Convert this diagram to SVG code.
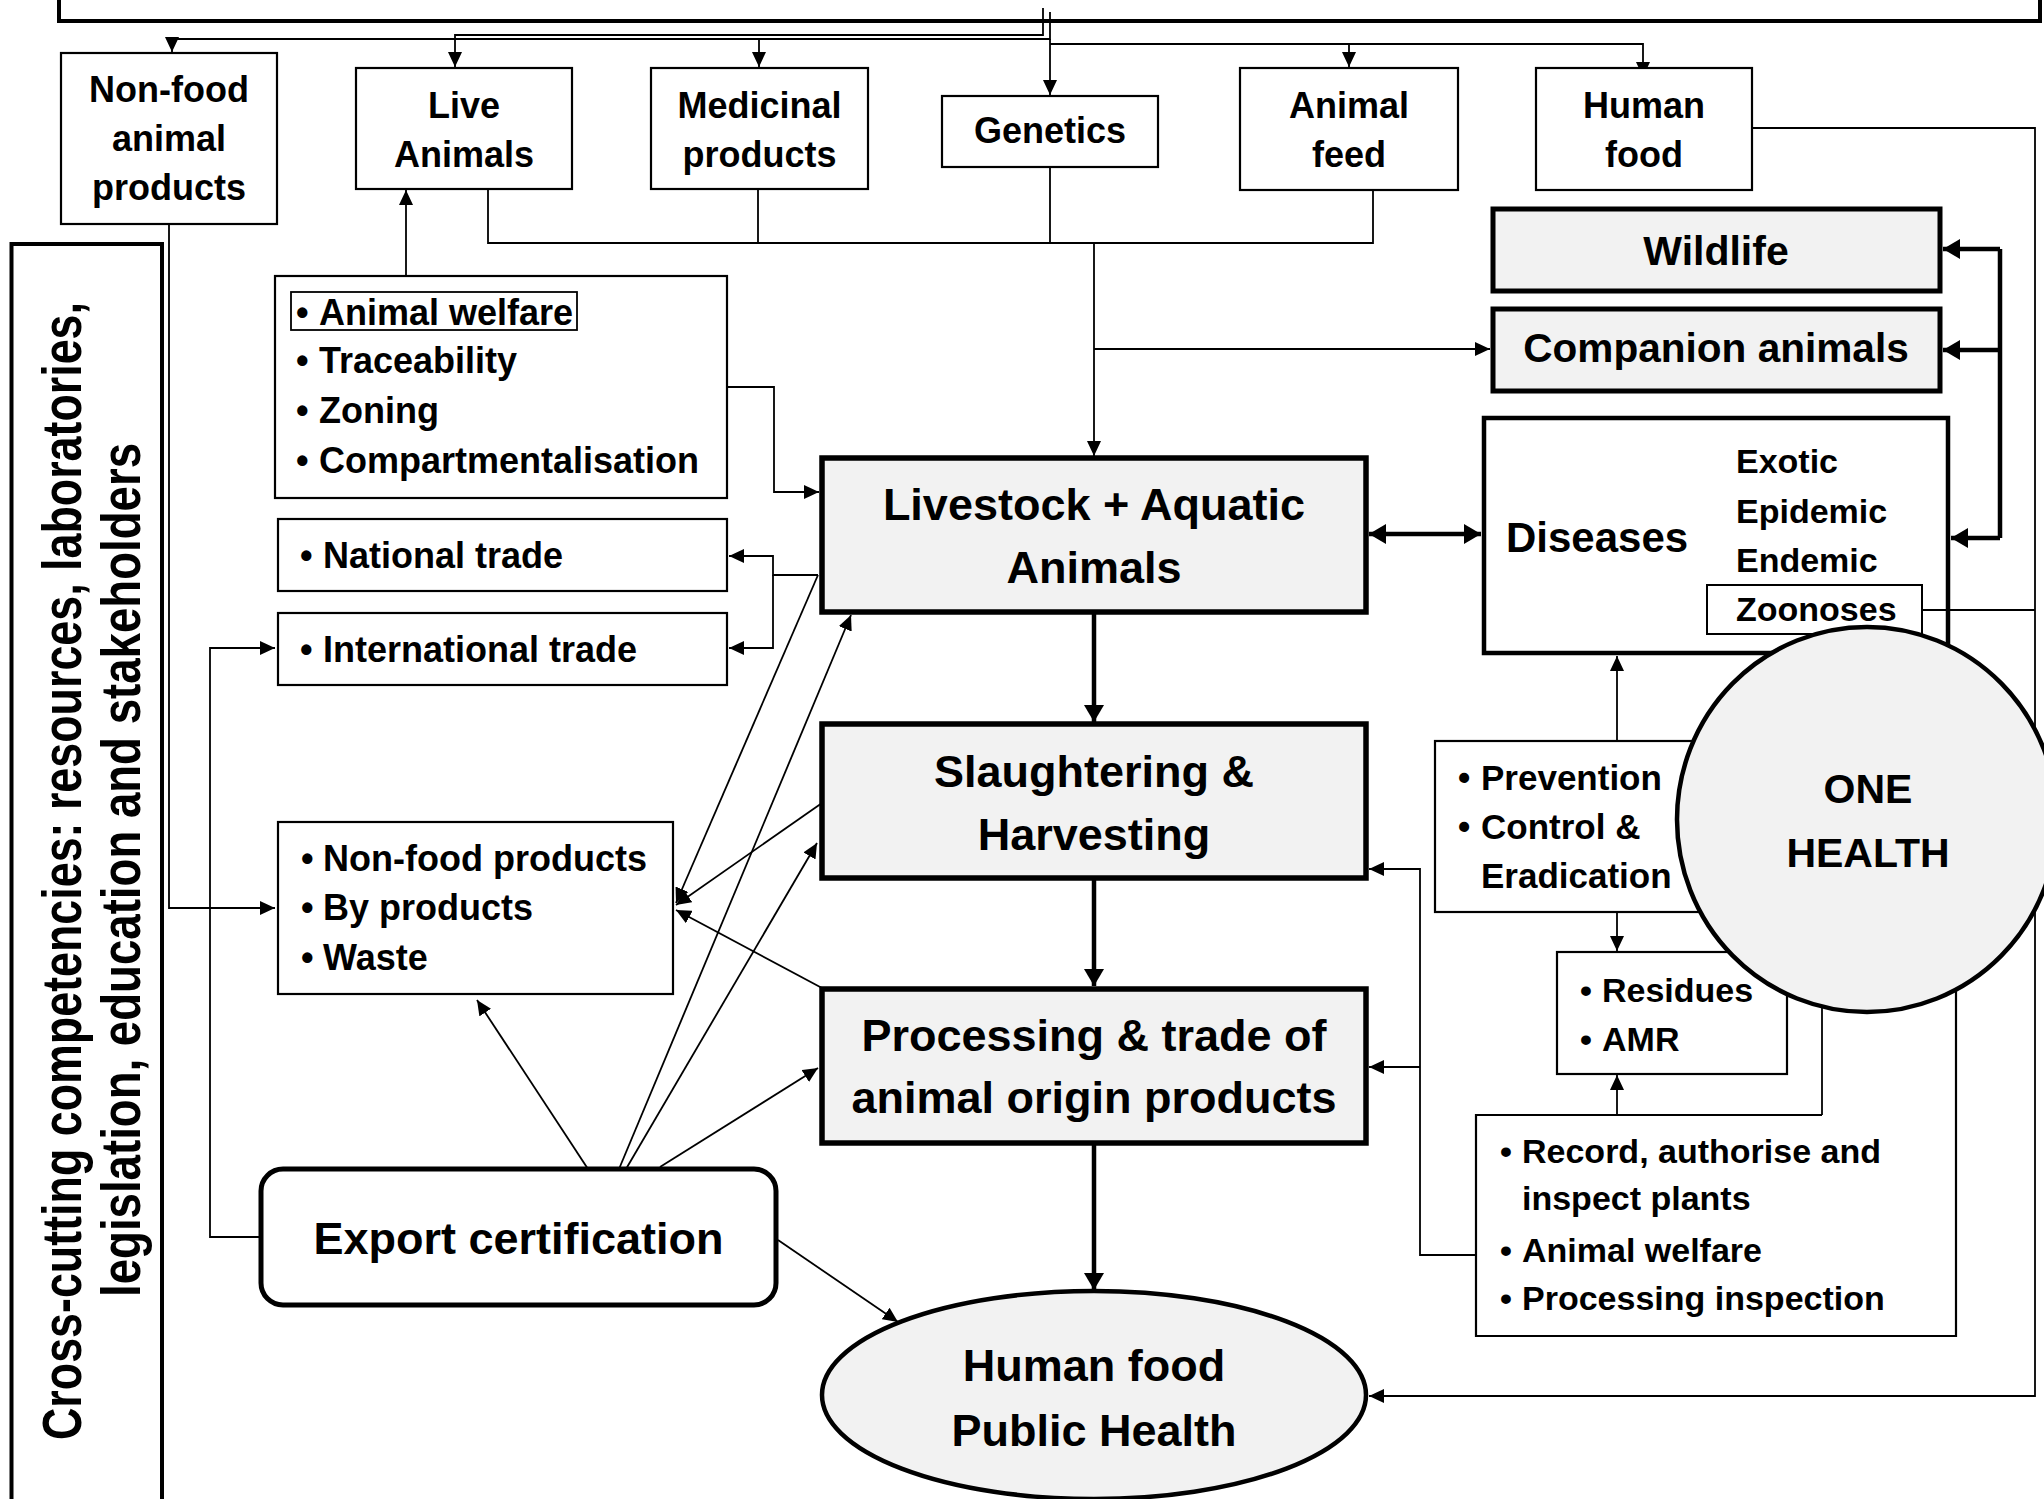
<svg xmlns="http://www.w3.org/2000/svg" width="2044" height="1499" viewBox="0 0 2044 1499">
<style>
text{font-family:"Liberation Sans",Arial,sans-serif;font-weight:bold;fill:#000}
.m{text-anchor:middle}
.box{fill:#fff;stroke:#000;stroke-width:2.2}
.gbox{fill:#f2f2f2;stroke:#000;stroke-width:5.5}
.c{fill:none;stroke:#000;stroke-width:1.8}
.k{fill:none;stroke:#000;stroke-width:4.5}
.ca{fill:none;stroke:#000;stroke-width:1.8;marker-end:url(#a)}
.ka{fill:none;stroke:#000;stroke-width:4.5;marker-end:url(#A)}
.f34{font-size:34px}.f35{font-size:35px}.f36{font-size:36px}.f41{font-size:41px}.f42{font-size:42px}.f45{font-size:45px}
</style>
<defs>
<marker id="a" viewBox="0 0 15 14" refX="15" refY="7" markerWidth="15" markerHeight="14" markerUnits="userSpaceOnUse" orient="auto"><path d="M0,0 L15,7 L0,14 z" fill="#000"/></marker>
<marker id="A" viewBox="0 0 17 20" refX="17" refY="10" markerWidth="17" markerHeight="20" markerUnits="userSpaceOnUse" orient="auto-start-reverse"><path d="M0,0 L17,10 L0,20 z" fill="#000"/></marker>
</defs>
<rect width="2044" height="1499" fill="#fff"/>

<g id="connectors">
<path class="ca" d="M1043,8 V35 H455 V67"/>
<path class="ca" d="M1050,12 V39 H172 V52"/>
<path class="ca" d="M759,39 V67"/>
<path class="ca" d="M1050,39 V95"/>
<path class="ca" d="M1050,44 H1643 V77"/>
<path class="ca" d="M1349,44 V67"/>
<path class="c" d="M488,189 V243 H1373 V190 M758,189 V243 M1050,167 V243"/>
<path class="ca" d="M1094,243 V456"/>
<path class="ca" d="M1094,349 H1490"/>
<path class="ca" d="M406,292 V190"/>
<path class="ca" d="M727,387 H774 V492 H819"/>
<path class="ca" d="M818,575 H773 V556 H729"/>
<path class="ca" d="M773,575 V648 H729"/>
<path class="ca" d="M818,575 L676,903"/>
<path class="ca" d="M822,803 L676,905"/>
<path class="ca" d="M822,988 L676,910"/>
<path class="ca" d="M588,1169 L477,1000"/>
<path class="ca" d="M619,1169 L851,615"/>
<path class="ca" d="M626,1169 L817,843"/>
<path class="ca" d="M660,1167 L818,1068"/>
<path class="ca" d="M778,1240 L898,1322"/>
<path class="ca" d="M261,1237 H210 V648 H275"/>
<path class="ca" d="M169,224 V908 H275"/>
<path class="ca" d="M1617,741 V656"/>
<path class="ca" d="M1617,912 V951"/>
<path class="ca" d="M1617,1115 V1075"/>
<path class="ca" d="M1476,1255 H1420 V869 H1369"/>
<path class="ca" d="M1420,1067 H1369"/>
<path class="ca" d="M1752,128 H2035 V1396 H1369"/>
<path class="c" d="M1822,990 V1115"/>
<path class="ka" d="M1094,612 V722"/>
<path class="ka" d="M1094,878 V986"/>
<path class="ka" d="M1094,1143 V1290"/>
<path class="ka" d="M1369,534 H1481" marker-start="url(#A)"/>
<path class="k" d="M2000,249 V538"/>
<path class="ka" d="M2000,249 H1943"/>
<path class="ka" d="M2000,350 H1943"/>
<path class="ka" d="M2000,538 H1951"/>
</g>

<g id="banner"><rect x="59" y="-60" width="1981" height="81" fill="none" stroke="#000" stroke-width="4"/></g>

<g id="cross-cutting">
<rect x="11.5" y="244" width="150.5" height="1300" fill="#fff" stroke="#000" stroke-width="4"/>
<text transform="translate(81,871) rotate(-90)" class="m" font-size="55" textLength="1138" lengthAdjust="spacingAndGlyphs">Cross-cutting competencies: resources, laboratories,</text>
<text transform="translate(140,870) rotate(-90)" class="m" font-size="55" textLength="854" lengthAdjust="spacingAndGlyphs">legislation, education and stakeholders</text>
</g>

<g id="non-food-animal-products"><rect class="box" x="61" y="53" width="216" height="171"/>
<text class="m f36" x="169" y="102">Non-food</text><text class="m f36" x="169" y="151">animal</text><text class="m f36" x="169" y="200">products</text></g>
<g id="live-animals"><rect class="box" x="356" y="68" width="216" height="121"/>
<text class="m f36" x="464" y="118">Live</text><text class="m f36" x="464" y="167">Animals</text></g>
<g id="medicinal-products"><rect class="box" x="651" y="68" width="217" height="121"/>
<text class="m f36" x="759.5" y="118">Medicinal</text><text class="m f36" x="759.5" y="167">products</text></g>
<g id="genetics"><rect class="box" x="942" y="96" width="216" height="71"/>
<text class="m f36" x="1050" y="143">Genetics</text></g>
<g id="animal-feed"><rect class="box" x="1240" y="68" width="218" height="122"/>
<text class="m f36" x="1349" y="118">Animal</text><text class="m f36" x="1349" y="167">feed</text></g>
<g id="human-food-top"><rect class="box" x="1536" y="68" width="216" height="122"/>
<text class="m f36" x="1644" y="118">Human</text><text class="m f36" x="1644" y="167">food</text></g>

<g id="wildlife"><rect x="1493" y="209" width="447" height="82" fill="#f2f2f2" stroke="#000" stroke-width="5"/>
<text class="m f41" x="1716" y="265">Wildlife</text></g>
<g id="companion-animals"><rect x="1493" y="309" width="447" height="82" fill="#f2f2f2" stroke="#000" stroke-width="5"/>
<text class="m" font-size="40.6" x="1716" y="362">Companion animals</text></g>

<g id="animal-welfare-list"><rect class="box" x="275" y="276" width="452" height="222"/>
<rect x="291" y="292" width="286" height="38" fill="none" stroke="#000" stroke-width="1.8"/>
<text class="f36" y="325"><tspan x="296">•</tspan><tspan x="319">Animal welfare</tspan></text>
<text class="f36" y="373"><tspan x="296">•</tspan><tspan x="319">Traceability</tspan></text>
<text class="f36" y="423"><tspan x="296">•</tspan><tspan x="319">Zoning</tspan></text>
<text class="f36" y="473"><tspan x="296">•</tspan><tspan x="319">Compartmentalisation</tspan></text></g>
<g id="national-trade"><rect class="box" x="278" y="519" width="449" height="72"/>
<text class="f36" y="568"><tspan x="300">•</tspan><tspan x="323">National trade</tspan></text></g>
<g id="international-trade"><rect class="box" x="278" y="613" width="449" height="72"/>
<text class="f36" y="662"><tspan x="300">•</tspan><tspan x="323">International trade</tspan></text></g>
<g id="non-food-products"><rect class="box" x="278" y="822" width="395" height="172"/>
<text class="f36" y="871"><tspan x="301">•</tspan><tspan x="323">Non-food products</tspan></text>
<text class="f36" y="920"><tspan x="301">•</tspan><tspan x="323">By products</tspan></text>
<text class="f36" y="970"><tspan x="301">•</tspan><tspan x="323">Waste</tspan></text></g>
<g id="export-certification"><rect x="261" y="1169" width="515" height="136" rx="22" fill="#fff" stroke="#000" stroke-width="5"/>
<text class="m f45" x="518.5" y="1254">Export certification</text></g>

<g id="livestock"><rect class="gbox" x="822" y="458" width="544" height="154"/>
<text class="m f45" x="1094" y="520">Livestock + Aquatic</text><text class="m f45" x="1094" y="583">Animals</text></g>
<g id="slaughtering"><rect class="gbox" x="822" y="724" width="544" height="154"/>
<text class="m f45" x="1094" y="787">Slaughtering &amp;</text><text class="m f45" x="1094" y="850">Harvesting</text></g>
<g id="processing"><rect class="gbox" x="822" y="989" width="544" height="154"/>
<text class="m f45" x="1094" y="1051">Processing &amp; trade of</text><text class="m f45" x="1094" y="1113">animal origin products</text></g>
<g id="human-food-public-health"><ellipse cx="1094" cy="1395" rx="272" ry="104" fill="#f2f2f2" stroke="#000" stroke-width="4.5"/>
<text class="m f45" x="1094" y="1381">Human food</text><text class="m f45" x="1094" y="1446">Public Health</text></g>

<g id="diseases"><rect x="1484" y="418" width="464" height="235" fill="#fff" stroke="#000" stroke-width="4.5"/>
<text class="f42" x="1506" y="552">Diseases</text>
<text class="f34" x="1736" y="473">Exotic</text>
<text class="f34" x="1736" y="523">Epidemic</text>
<text class="f34" x="1736" y="572">Endemic</text>
<rect x="1707" y="585" width="215" height="49" fill="#fff" stroke="#000" stroke-width="2"/>
<text class="f34" x="1736" y="621">Zoonoses</text>
<path class="c" d="M1922,610 H2035"/></g>

<g id="prevention"><rect class="box" x="1435" y="741" width="290" height="171"/>
<text class="f35" y="790"><tspan x="1458">•</tspan><tspan x="1481">Prevention</tspan></text>
<text class="f35" y="839"><tspan x="1458">•</tspan><tspan x="1481">Control &amp;</tspan></text>
<text class="f35" x="1481" y="888">Eradication</text></g>
<g id="residues"><rect class="box" x="1557" y="952" width="230" height="122"/>
<text class="f34" y="1002"><tspan x="1580">•</tspan><tspan x="1602">Residues</tspan></text>
<text class="f34" y="1051"><tspan x="1580">•</tspan><tspan x="1602">AMR</tspan></text></g>
<g id="record"><path d="M1822,1115 H1476 V1336 H1956 V900" fill="none" stroke="#000" stroke-width="2.2"/>
<text class="f34" y="1163"><tspan x="1500">•</tspan><tspan x="1522">Record, authorise and</tspan></text>
<text class="f34" x="1522" y="1210">inspect plants</text>
<text class="f34" y="1262"><tspan x="1500">•</tspan><tspan x="1522">Animal welfare</tspan></text>
<text class="f34" y="1310"><tspan x="1500">•</tspan><tspan x="1522">Processing inspection</tspan></text></g>

<g id="one-health"><ellipse cx="1867" cy="819.5" rx="190" ry="192.5" fill="#f2f2f2" stroke="#000" stroke-width="4.5"/>
<text class="m" font-size="41" x="1868" y="803">ONE</text><text class="m" font-size="41" x="1868" y="867">HEALTH</text></g>
</svg>
